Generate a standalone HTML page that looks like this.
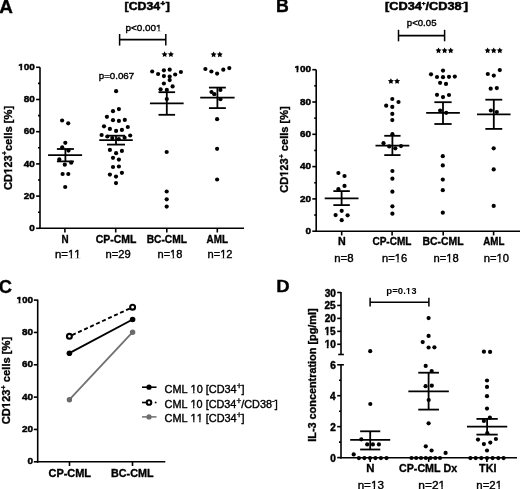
<!DOCTYPE html>
<html><head><meta charset="utf-8"><style>
html,body{margin:0;padding:0;background:#fff;}
body{width:520px;height:489px;overflow:hidden;}
svg{display:block;font-family:"Liberation Sans", sans-serif;font-kerning:none;will-change:transform;}
.b{font-weight:bold;stroke:#000;stroke-width:0.35px;}
.r{font-weight:normal;stroke:#000;stroke-width:0.38px;}
</style></head><body>
<svg width="520" height="489" viewBox="0 0 520 489" fill="#000">
<text class="b" font-size="18.2" transform="translate(-0.72,12.60) scale(1.0392,1)">A</text>
<text class="b" font-size="10.8" style="stroke-width:0.5px" transform="translate(124.59,10.00) scale(1.1403,1)">[CD34<tspan font-size="7" dy="-3.8" dx="0.2">+</tspan><tspan dy="3.8" dx="0.7">]</tspan></text>
<line x1="40.00" y1="67.30" x2="40.00" y2="229.10" stroke="#000" stroke-width="1.6" />
<line x1="36.10" y1="228.30" x2="40.00" y2="228.30" stroke="#000" stroke-width="1.6" />
<text class="b" font-size="9.3" style="stroke-width:0.45px" transform="translate(29.32,231.00) scale(1.0700,1)">0</text>
<line x1="36.10" y1="196.10" x2="40.00" y2="196.10" stroke="#000" stroke-width="1.6" />
<text class="b" font-size="9.3" style="stroke-width:0.45px" transform="translate(23.70,198.80) scale(1.0700,1)">20</text>
<line x1="36.10" y1="163.90" x2="40.00" y2="163.90" stroke="#000" stroke-width="1.6" />
<text class="b" font-size="9.3" style="stroke-width:0.45px" transform="translate(23.70,166.60) scale(1.0700,1)">40</text>
<line x1="36.10" y1="131.70" x2="40.00" y2="131.70" stroke="#000" stroke-width="1.6" />
<text class="b" font-size="9.3" style="stroke-width:0.45px" transform="translate(23.70,134.40) scale(1.0700,1)">60</text>
<line x1="36.10" y1="99.50" x2="40.00" y2="99.50" stroke="#000" stroke-width="1.6" />
<text class="b" font-size="9.3" style="stroke-width:0.45px" transform="translate(23.70,102.20) scale(1.0700,1)">80</text>
<line x1="36.10" y1="67.30" x2="40.00" y2="67.30" stroke="#000" stroke-width="1.6" />
<text class="b" font-size="9.3" style="stroke-width:0.45px" transform="translate(18.22,70.00) scale(1.0700,1)">100</text>
<line x1="38.00" y1="212.20" x2="40.00" y2="212.20" stroke="#000" stroke-width="1.6" />
<line x1="38.00" y1="180.00" x2="40.00" y2="180.00" stroke="#000" stroke-width="1.6" />
<line x1="38.00" y1="147.80" x2="40.00" y2="147.80" stroke="#000" stroke-width="1.6" />
<line x1="38.00" y1="115.60" x2="40.00" y2="115.60" stroke="#000" stroke-width="1.6" />
<line x1="38.00" y1="83.40" x2="40.00" y2="83.40" stroke="#000" stroke-width="1.6" />
<line x1="39.20" y1="228.30" x2="244.00" y2="228.30" stroke="#000" stroke-width="1.6" />
<line x1="64.90" y1="228.30" x2="64.90" y2="232.50" stroke="#000" stroke-width="1.6" />
<line x1="115.70" y1="228.30" x2="115.70" y2="232.50" stroke="#000" stroke-width="1.6" />
<line x1="166.80" y1="228.30" x2="166.80" y2="232.50" stroke="#000" stroke-width="1.6" />
<line x1="217.30" y1="228.30" x2="217.30" y2="232.50" stroke="#000" stroke-width="1.6" />
<text class="b" font-size="10.2" transform="translate(61.60,242.60) scale(0.9667,1)">N</text>
<text class="b" font-size="10.2" transform="translate(95.72,242.60) scale(1.0264,1)">CP-CML</text>
<text class="b" font-size="10.2" transform="translate(146.67,242.60) scale(1.0038,1)">BC-CML</text>
<text class="b" font-size="10.2" transform="translate(206.56,242.60) scale(0.9674,1)">AML</text>
<text class="r" font-size="10.7" transform="translate(54.90,257.50) scale(1.0688,1)">n=11</text>
<text class="r" font-size="10.7" transform="translate(105.62,257.50) scale(1.0448,1)">n=29</text>
<text class="r" font-size="10.7" transform="translate(157.53,257.50) scale(1.0317,1)">n=18</text>
<text class="r" font-size="10.7" transform="translate(207.52,257.50) scale(1.0374,1)">n=12</text>
<text class="b" font-size="11" transform="translate(11.80,190.01) rotate(-90) scale(1.0150,1)">CD123<tspan font-size="7" dy="-5.0">+</tspan><tspan dy="5.0">cells [%]</tspan></text>
<text class="r" font-size="9.5" transform="translate(125.55,30.50) scale(1.0436,1)">p&lt;0.001</text>
<line x1="119.60" y1="39.60" x2="165.80" y2="39.60" stroke="#000" stroke-width="1.6" />
<line x1="119.60" y1="34.00" x2="119.60" y2="45.60" stroke="#000" stroke-width="1.5" />
<line x1="165.80" y1="34.00" x2="165.80" y2="45.60" stroke="#000" stroke-width="1.5" />
<text class="r" font-size="9.6" transform="translate(98.77,79.20) scale(1.0140,1)">p=0.067</text>
<polygon points="164.60,51.35 165.54,53.21 167.60,53.53 166.12,54.99 166.45,57.05 164.60,56.10 162.75,57.05 163.08,54.99 161.60,53.53 163.66,53.21" fill="#000"/>
<polygon points="170.90,51.35 171.84,53.21 173.90,53.53 172.42,54.99 172.75,57.05 170.90,56.10 169.05,57.05 169.38,54.99 167.90,53.53 169.96,53.21" fill="#000"/>
<polygon points="213.60,51.45 214.54,53.31 216.60,53.63 215.12,55.09 215.45,57.15 213.60,56.20 211.75,57.15 212.08,55.09 210.60,53.63 212.66,53.31" fill="#000"/>
<polygon points="219.80,51.45 220.74,53.31 222.80,53.63 221.32,55.09 221.65,57.15 219.80,56.20 217.95,57.15 218.28,55.09 216.80,53.63 218.86,53.31" fill="#000"/>
<circle cx="62.10" cy="120.50" r="2.1" fill="#000"/>
<circle cx="68.20" cy="123.30" r="2.1" fill="#000"/>
<circle cx="65.30" cy="142.80" r="2.1" fill="#000"/>
<circle cx="62.20" cy="147.30" r="2.1" fill="#000"/>
<circle cx="68.50" cy="150.60" r="2.1" fill="#000"/>
<circle cx="59.30" cy="159.40" r="2.1" fill="#000"/>
<circle cx="64.80" cy="164.70" r="2.1" fill="#000"/>
<circle cx="71.20" cy="162.70" r="2.1" fill="#000"/>
<circle cx="62.60" cy="174.00" r="2.1" fill="#000"/>
<circle cx="68.30" cy="174.00" r="2.1" fill="#000"/>
<circle cx="65.20" cy="187.00" r="2.1" fill="#000"/>
<circle cx="116.10" cy="91.20" r="2.1" fill="#000"/>
<circle cx="118.90" cy="109.10" r="2.1" fill="#000"/>
<circle cx="113.00" cy="111.20" r="2.1" fill="#000"/>
<circle cx="106.90" cy="116.80" r="2.1" fill="#000"/>
<circle cx="113.00" cy="120.20" r="2.1" fill="#000"/>
<circle cx="118.90" cy="120.90" r="2.1" fill="#000"/>
<circle cx="124.80" cy="119.90" r="2.1" fill="#000"/>
<circle cx="104.00" cy="126.30" r="2.1" fill="#000"/>
<circle cx="109.90" cy="128.90" r="2.1" fill="#000"/>
<circle cx="116.10" cy="130.90" r="2.1" fill="#000"/>
<circle cx="121.90" cy="129.90" r="2.1" fill="#000"/>
<circle cx="127.80" cy="127.00" r="2.1" fill="#000"/>
<circle cx="101.60" cy="135.00" r="2.1" fill="#000"/>
<circle cx="130.20" cy="135.50" r="2.1" fill="#000"/>
<circle cx="107.30" cy="136.50" r="2.1" fill="#000"/>
<circle cx="112.30" cy="138.10" r="2.1" fill="#000"/>
<circle cx="118.80" cy="139.20" r="2.1" fill="#000"/>
<circle cx="124.60" cy="137.70" r="2.1" fill="#000"/>
<circle cx="109.90" cy="149.90" r="2.1" fill="#000"/>
<circle cx="121.90" cy="150.90" r="2.1" fill="#000"/>
<circle cx="116.10" cy="153.20" r="2.1" fill="#000"/>
<circle cx="113.00" cy="157.80" r="2.1" fill="#000"/>
<circle cx="118.90" cy="159.60" r="2.1" fill="#000"/>
<circle cx="113.00" cy="167.00" r="2.1" fill="#000"/>
<circle cx="118.90" cy="166.50" r="2.1" fill="#000"/>
<circle cx="109.90" cy="174.60" r="2.1" fill="#000"/>
<circle cx="121.90" cy="172.80" r="2.1" fill="#000"/>
<circle cx="116.00" cy="176.60" r="2.1" fill="#000"/>
<circle cx="116.00" cy="183.10" r="2.1" fill="#000"/>
<circle cx="152.20" cy="71.50" r="2.1" fill="#000"/>
<circle cx="158.10" cy="74.00" r="2.1" fill="#000"/>
<circle cx="163.90" cy="70.30" r="2.1" fill="#000"/>
<circle cx="169.70" cy="69.70" r="2.1" fill="#000"/>
<circle cx="180.90" cy="72.00" r="2.1" fill="#000"/>
<circle cx="175.20" cy="74.50" r="2.1" fill="#000"/>
<circle cx="163.90" cy="76.10" r="2.1" fill="#000"/>
<circle cx="169.70" cy="76.60" r="2.1" fill="#000"/>
<circle cx="169.70" cy="80.10" r="2.1" fill="#000"/>
<circle cx="163.90" cy="83.50" r="2.1" fill="#000"/>
<circle cx="172.60" cy="86.40" r="2.1" fill="#000"/>
<circle cx="160.60" cy="89.30" r="2.1" fill="#000"/>
<circle cx="166.80" cy="89.90" r="2.1" fill="#000"/>
<circle cx="166.80" cy="99.10" r="2.1" fill="#000"/>
<circle cx="166.70" cy="152.00" r="2.1" fill="#000"/>
<circle cx="166.70" cy="191.50" r="2.1" fill="#000"/>
<circle cx="166.70" cy="199.30" r="2.1" fill="#000"/>
<circle cx="166.70" cy="206.60" r="2.1" fill="#000"/>
<circle cx="205.40" cy="69.00" r="2.1" fill="#000"/>
<circle cx="211.40" cy="71.50" r="2.1" fill="#000"/>
<circle cx="217.10" cy="73.60" r="2.1" fill="#000"/>
<circle cx="223.30" cy="69.70" r="2.1" fill="#000"/>
<circle cx="229.30" cy="68.10" r="2.1" fill="#000"/>
<circle cx="211.50" cy="92.00" r="2.1" fill="#000"/>
<circle cx="214.30" cy="94.20" r="2.1" fill="#000"/>
<circle cx="220.40" cy="89.90" r="2.1" fill="#000"/>
<circle cx="220.40" cy="99.20" r="2.1" fill="#000"/>
<circle cx="217.10" cy="119.20" r="2.1" fill="#000"/>
<circle cx="217.10" cy="148.80" r="2.1" fill="#000"/>
<circle cx="217.10" cy="179.50" r="2.1" fill="#000"/>
<line x1="48.10" y1="155.10" x2="82.10" y2="155.10" stroke="#000" stroke-width="1.8" />
<line x1="56.90" y1="149.00" x2="73.90" y2="149.00" stroke="#000" stroke-width="1.8" />
<line x1="56.90" y1="161.40" x2="73.90" y2="161.40" stroke="#000" stroke-width="1.8" />
<line x1="65.40" y1="149.00" x2="65.40" y2="161.40" stroke="#000" stroke-width="1.8" />
<line x1="99.25" y1="140.20" x2="132.75" y2="140.20" stroke="#000" stroke-width="1.8" />
<line x1="107.00" y1="135.70" x2="125.00" y2="135.70" stroke="#000" stroke-width="1.8" />
<line x1="107.00" y1="144.60" x2="125.00" y2="144.60" stroke="#000" stroke-width="1.8" />
<line x1="116.00" y1="135.70" x2="116.00" y2="144.60" stroke="#000" stroke-width="1.8" />
<line x1="149.95" y1="103.40" x2="183.65" y2="103.40" stroke="#000" stroke-width="1.8" />
<line x1="158.50" y1="92.20" x2="175.10" y2="92.20" stroke="#000" stroke-width="1.8" />
<line x1="158.50" y1="114.80" x2="175.10" y2="114.80" stroke="#000" stroke-width="1.8" />
<line x1="166.80" y1="92.20" x2="166.80" y2="114.80" stroke="#000" stroke-width="1.8" />
<line x1="200.20" y1="97.60" x2="234.60" y2="97.60" stroke="#000" stroke-width="1.8" />
<line x1="208.95" y1="87.60" x2="225.85" y2="87.60" stroke="#000" stroke-width="1.8" />
<line x1="208.95" y1="108.10" x2="225.85" y2="108.10" stroke="#000" stroke-width="1.8" />
<line x1="217.40" y1="87.60" x2="217.40" y2="108.10" stroke="#000" stroke-width="1.8" />
<text class="b" font-size="17.5" transform="translate(275.96,12.20) scale(1.0140,1)">B</text>
<text class="b" font-size="10.8" style="stroke-width:0.5px" transform="translate(385.06,9.80) scale(1.1769,1)">[CD34<tspan font-size="5.5" dy="-5.0">+</tspan><tspan dy="5.0">/CD38</tspan><tspan font-size="5.5" dy="-5.0">-</tspan><tspan dy="5.0">]</tspan></text>
<line x1="316.20" y1="69.70" x2="316.20" y2="232.00" stroke="#000" stroke-width="1.6" />
<line x1="312.30" y1="231.20" x2="316.20" y2="231.20" stroke="#000" stroke-width="1.6" />
<text class="b" font-size="9.3" style="stroke-width:0.45px" transform="translate(305.52,233.80) scale(1.0700,1)">0</text>
<line x1="312.30" y1="198.90" x2="316.20" y2="198.90" stroke="#000" stroke-width="1.6" />
<text class="b" font-size="9.3" style="stroke-width:0.45px" transform="translate(299.90,201.50) scale(1.0700,1)">20</text>
<line x1="312.30" y1="166.60" x2="316.20" y2="166.60" stroke="#000" stroke-width="1.6" />
<text class="b" font-size="9.3" style="stroke-width:0.45px" transform="translate(299.90,169.20) scale(1.0700,1)">40</text>
<line x1="312.30" y1="134.30" x2="316.20" y2="134.30" stroke="#000" stroke-width="1.6" />
<text class="b" font-size="9.3" style="stroke-width:0.45px" transform="translate(299.90,136.90) scale(1.0700,1)">60</text>
<line x1="312.30" y1="102.00" x2="316.20" y2="102.00" stroke="#000" stroke-width="1.6" />
<text class="b" font-size="9.3" style="stroke-width:0.45px" transform="translate(299.90,104.60) scale(1.0700,1)">80</text>
<line x1="312.30" y1="69.70" x2="316.20" y2="69.70" stroke="#000" stroke-width="1.6" />
<text class="b" font-size="9.3" style="stroke-width:0.45px" transform="translate(294.42,72.30) scale(1.0700,1)">100</text>
<line x1="314.20" y1="215.05" x2="316.20" y2="215.05" stroke="#000" stroke-width="1.6" />
<line x1="314.20" y1="182.75" x2="316.20" y2="182.75" stroke="#000" stroke-width="1.6" />
<line x1="314.20" y1="150.45" x2="316.20" y2="150.45" stroke="#000" stroke-width="1.6" />
<line x1="314.20" y1="118.15" x2="316.20" y2="118.15" stroke="#000" stroke-width="1.6" />
<line x1="314.20" y1="85.85" x2="316.20" y2="85.85" stroke="#000" stroke-width="1.6" />
<line x1="315.40" y1="231.20" x2="520.00" y2="231.20" stroke="#000" stroke-width="1.6" />
<line x1="341.70" y1="231.20" x2="341.70" y2="235.40" stroke="#000" stroke-width="1.6" />
<line x1="392.10" y1="231.20" x2="392.10" y2="235.40" stroke="#000" stroke-width="1.6" />
<line x1="443.20" y1="231.20" x2="443.20" y2="235.40" stroke="#000" stroke-width="1.6" />
<line x1="493.60" y1="231.20" x2="493.60" y2="235.40" stroke="#000" stroke-width="1.6" />
<text class="b" font-size="10.2" transform="translate(337.94,244.90) scale(1.0500,1)">N</text>
<text class="b" font-size="10.2" transform="translate(372.43,244.90) scale(0.9852,1)">CP-CML</text>
<text class="b" font-size="10.2" transform="translate(422.46,244.90) scale(1.0242,1)">BC-CML</text>
<text class="b" font-size="10.2" transform="translate(483.26,244.90) scale(0.9581,1)">AML</text>
<text class="r" font-size="10.7" transform="translate(334.20,261.70) scale(1.0667,1)">n=8</text>
<text class="r" font-size="10.7" transform="translate(381.92,261.70) scale(1.0448,1)">n=16</text>
<text class="r" font-size="10.7" transform="translate(433.52,261.70) scale(1.0448,1)">n=18</text>
<text class="r" font-size="10.7" transform="translate(483.72,261.70) scale(1.0448,1)">n=10</text>
<text class="b" font-size="11" transform="translate(288.20,192.80) rotate(-90) scale(1.0074,1)">CD123<tspan font-size="7" dy="-4.5">+</tspan><tspan dy="4.5"> cells [%]</tspan></text>
<text class="r" font-size="9.6" transform="translate(406.77,25.50) scale(1.0061,1)">p&lt;0.05</text>
<line x1="398.50" y1="35.60" x2="444.60" y2="35.60" stroke="#000" stroke-width="1.6" />
<line x1="398.50" y1="29.80" x2="398.50" y2="41.30" stroke="#000" stroke-width="1.5" />
<line x1="444.60" y1="29.80" x2="444.60" y2="41.30" stroke="#000" stroke-width="1.5" />
<polygon points="390.90,78.15 391.84,80.01 393.90,80.33 392.42,81.79 392.75,83.85 390.90,82.90 389.05,83.85 389.38,81.79 387.90,80.33 389.96,80.01" fill="#000"/>
<polygon points="397.10,78.15 398.04,80.01 400.10,80.33 398.62,81.79 398.95,83.85 397.10,82.90 395.25,83.85 395.58,81.79 394.10,80.33 396.16,80.01" fill="#000"/>
<polygon points="438.50,47.45 439.44,49.31 441.50,49.63 440.02,51.09 440.35,53.15 438.50,52.20 436.65,53.15 436.98,51.09 435.50,49.63 437.56,49.31" fill="#000"/>
<polygon points="444.60,47.45 445.54,49.31 447.60,49.63 446.12,51.09 446.45,53.15 444.60,52.20 442.75,53.15 443.08,51.09 441.60,49.63 443.66,49.31" fill="#000"/>
<polygon points="450.70,47.45 451.64,49.31 453.70,49.63 452.22,51.09 452.55,53.15 450.70,52.20 448.85,53.15 449.18,51.09 447.70,49.63 449.76,49.31" fill="#000"/>
<polygon points="487.60,47.45 488.54,49.31 490.60,49.63 489.12,51.09 489.45,53.15 487.60,52.20 485.75,53.15 486.08,51.09 484.60,49.63 486.66,49.31" fill="#000"/>
<polygon points="493.70,47.45 494.64,49.31 496.70,49.63 495.22,51.09 495.55,53.15 493.70,52.20 491.85,53.15 492.18,51.09 490.70,49.63 492.76,49.31" fill="#000"/>
<polygon points="499.80,47.45 500.74,49.31 502.80,49.63 501.32,51.09 501.65,53.15 499.80,52.20 497.95,53.15 498.28,51.09 496.80,49.63 498.86,49.31" fill="#000"/>
<circle cx="338.40" cy="173.00" r="2.1" fill="#000"/>
<circle cx="344.50" cy="176.00" r="2.1" fill="#000"/>
<circle cx="344.50" cy="185.90" r="2.1" fill="#000"/>
<circle cx="338.40" cy="189.20" r="2.1" fill="#000"/>
<circle cx="341.70" cy="210.80" r="2.1" fill="#000"/>
<circle cx="335.60" cy="215.10" r="2.1" fill="#000"/>
<circle cx="347.60" cy="215.30" r="2.1" fill="#000"/>
<circle cx="341.70" cy="220.20" r="2.1" fill="#000"/>
<circle cx="392.30" cy="99.00" r="2.1" fill="#000"/>
<circle cx="398.50" cy="102.00" r="2.1" fill="#000"/>
<circle cx="386.20" cy="105.70" r="2.1" fill="#000"/>
<circle cx="392.30" cy="106.90" r="2.1" fill="#000"/>
<circle cx="392.30" cy="113.90" r="2.1" fill="#000"/>
<circle cx="392.30" cy="120.10" r="2.1" fill="#000"/>
<circle cx="392.40" cy="134.20" r="2.1" fill="#000"/>
<circle cx="383.50" cy="143.20" r="2.1" fill="#000"/>
<circle cx="389.20" cy="146.40" r="2.1" fill="#000"/>
<circle cx="395.30" cy="148.30" r="2.1" fill="#000"/>
<circle cx="401.00" cy="146.10" r="2.1" fill="#000"/>
<circle cx="392.40" cy="171.00" r="2.1" fill="#000"/>
<circle cx="392.40" cy="178.70" r="2.1" fill="#000"/>
<circle cx="392.40" cy="191.70" r="2.1" fill="#000"/>
<circle cx="392.40" cy="206.30" r="2.1" fill="#000"/>
<circle cx="392.40" cy="213.70" r="2.1" fill="#000"/>
<circle cx="443.00" cy="70.60" r="2.1" fill="#000"/>
<circle cx="431.00" cy="74.30" r="2.1" fill="#000"/>
<circle cx="437.00" cy="77.00" r="2.1" fill="#000"/>
<circle cx="443.00" cy="77.20" r="2.1" fill="#000"/>
<circle cx="449.00" cy="76.80" r="2.1" fill="#000"/>
<circle cx="454.80" cy="76.60" r="2.1" fill="#000"/>
<circle cx="440.10" cy="82.80" r="2.1" fill="#000"/>
<circle cx="446.00" cy="83.90" r="2.1" fill="#000"/>
<circle cx="437.00" cy="94.80" r="2.1" fill="#000"/>
<circle cx="443.00" cy="97.10" r="2.1" fill="#000"/>
<circle cx="449.00" cy="95.00" r="2.1" fill="#000"/>
<circle cx="440.10" cy="110.60" r="2.1" fill="#000"/>
<circle cx="446.20" cy="112.80" r="2.1" fill="#000"/>
<circle cx="442.80" cy="156.20" r="2.1" fill="#000"/>
<circle cx="442.80" cy="165.40" r="2.1" fill="#000"/>
<circle cx="442.80" cy="179.60" r="2.1" fill="#000"/>
<circle cx="442.80" cy="190.20" r="2.1" fill="#000"/>
<circle cx="442.80" cy="212.70" r="2.1" fill="#000"/>
<circle cx="487.80" cy="74.00" r="2.1" fill="#000"/>
<circle cx="493.80" cy="75.60" r="2.1" fill="#000"/>
<circle cx="499.80" cy="70.10" r="2.1" fill="#000"/>
<circle cx="490.70" cy="88.70" r="2.1" fill="#000"/>
<circle cx="496.80" cy="88.10" r="2.1" fill="#000"/>
<circle cx="490.90" cy="110.50" r="2.1" fill="#000"/>
<circle cx="496.80" cy="112.00" r="2.1" fill="#000"/>
<circle cx="493.70" cy="148.30" r="2.1" fill="#000"/>
<circle cx="493.70" cy="169.40" r="2.1" fill="#000"/>
<circle cx="493.70" cy="205.90" r="2.1" fill="#000"/>
<line x1="324.70" y1="198.40" x2="358.50" y2="198.40" stroke="#000" stroke-width="1.8" />
<line x1="333.35" y1="191.10" x2="349.85" y2="191.10" stroke="#000" stroke-width="1.8" />
<line x1="333.35" y1="205.10" x2="349.85" y2="205.10" stroke="#000" stroke-width="1.8" />
<line x1="341.60" y1="191.10" x2="341.60" y2="205.10" stroke="#000" stroke-width="1.8" />
<line x1="375.50" y1="145.60" x2="409.30" y2="145.60" stroke="#000" stroke-width="1.8" />
<line x1="384.25" y1="135.80" x2="400.55" y2="135.80" stroke="#000" stroke-width="1.8" />
<line x1="384.25" y1="155.10" x2="400.55" y2="155.10" stroke="#000" stroke-width="1.8" />
<line x1="392.40" y1="135.80" x2="392.40" y2="155.10" stroke="#000" stroke-width="1.8" />
<line x1="426.15" y1="112.90" x2="459.85" y2="112.90" stroke="#000" stroke-width="1.8" />
<line x1="434.35" y1="102.20" x2="451.65" y2="102.20" stroke="#000" stroke-width="1.8" />
<line x1="434.35" y1="124.00" x2="451.65" y2="124.00" stroke="#000" stroke-width="1.8" />
<line x1="443.00" y1="102.20" x2="443.00" y2="124.00" stroke="#000" stroke-width="1.8" />
<line x1="477.05" y1="114.30" x2="510.55" y2="114.30" stroke="#000" stroke-width="1.8" />
<line x1="485.35" y1="99.70" x2="502.25" y2="99.70" stroke="#000" stroke-width="1.8" />
<line x1="485.35" y1="128.90" x2="502.25" y2="128.90" stroke="#000" stroke-width="1.8" />
<line x1="493.80" y1="99.70" x2="493.80" y2="128.90" stroke="#000" stroke-width="1.8" />
<text class="b" font-size="17.5" transform="translate(-1.28,293.20) scale(1.0462,1)">C</text>
<line x1="37.70" y1="299.60" x2="37.70" y2="462.60" stroke="#000" stroke-width="1.6" />
<line x1="33.80" y1="461.80" x2="37.70" y2="461.80" stroke="#000" stroke-width="1.6" />
<text class="b" font-size="9.3" style="stroke-width:0.45px" transform="translate(27.62,464.30) scale(1.0700,1)">0</text>
<line x1="33.80" y1="429.46" x2="37.70" y2="429.46" stroke="#000" stroke-width="1.6" />
<text class="b" font-size="9.3" style="stroke-width:0.45px" transform="translate(22.00,431.96) scale(1.0700,1)">20</text>
<line x1="33.80" y1="397.12" x2="37.70" y2="397.12" stroke="#000" stroke-width="1.6" />
<text class="b" font-size="9.3" style="stroke-width:0.45px" transform="translate(22.00,399.62) scale(1.0700,1)">40</text>
<line x1="33.80" y1="364.78" x2="37.70" y2="364.78" stroke="#000" stroke-width="1.6" />
<text class="b" font-size="9.3" style="stroke-width:0.45px" transform="translate(22.00,367.28) scale(1.0700,1)">60</text>
<line x1="33.80" y1="332.44" x2="37.70" y2="332.44" stroke="#000" stroke-width="1.6" />
<text class="b" font-size="9.3" style="stroke-width:0.45px" transform="translate(22.00,334.94) scale(1.0700,1)">80</text>
<line x1="33.80" y1="300.10" x2="37.70" y2="300.10" stroke="#000" stroke-width="1.6" />
<text class="b" font-size="9.3" style="stroke-width:0.45px" transform="translate(16.52,302.60) scale(1.0700,1)">100</text>
<line x1="36.90" y1="461.80" x2="165.30" y2="461.80" stroke="#000" stroke-width="1.6" />
<line x1="69.50" y1="461.80" x2="69.50" y2="466.00" stroke="#000" stroke-width="1.6" />
<line x1="132.50" y1="461.80" x2="132.50" y2="466.00" stroke="#000" stroke-width="1.6" />
<text class="b" font-size="10.6" transform="translate(48.48,477.20) scale(1.0353,1)">CP-CML</text>
<text class="b" font-size="10.6" transform="translate(110.99,477.20) scale(1.0184,1)">BC-CML</text>
<text class="b" font-size="11" transform="translate(10.20,424.31) rotate(-90) scale(1.0191,1)">CD123<tspan font-size="7" dy="-4.5">+</tspan><tspan dy="4.5"> cells [%]</tspan></text>
<line x1="69.40" y1="336.30" x2="132.60" y2="307.20" stroke="#000" stroke-width="1.9" stroke-dasharray="4,2.6" stroke-dashoffset="-3"/>
<line x1="69.40" y1="353.20" x2="132.60" y2="319.50" stroke="#000" stroke-width="1.9" />
<line x1="69.40" y1="399.70" x2="132.60" y2="332.20" stroke="#707070" stroke-width="1.8" />
<circle cx="69.4" cy="336.3" r="2.45" fill="#fff" stroke="#000" stroke-width="2.1"/>
<circle cx="132.6" cy="307.2" r="2.45" fill="#fff" stroke="#000" stroke-width="2.1"/>
<circle cx="69.40" cy="353.20" r="2.8" fill="#000"/>
<circle cx="132.60" cy="319.50" r="2.8" fill="#000"/>
<circle cx="69.40" cy="399.70" r="2.7" fill="#6a6a6a"/>
<circle cx="132.60" cy="332.20" r="2.7" fill="#6a6a6a"/>
<line x1="142.00" y1="387.20" x2="156.50" y2="387.20" stroke="#000" stroke-width="1.6" />
<circle cx="149.00" cy="387.20" r="2.6" fill="#000"/>
<line x1="142.00" y1="402.50" x2="146.20" y2="402.50" stroke="#000" stroke-width="1.6" />
<line x1="154.80" y1="402.50" x2="156.50" y2="402.50" stroke="#000" stroke-width="1.6" />
<circle cx="149" cy="402.5" r="2.3" fill="#fff" stroke="#000" stroke-width="2.1"/>
<line x1="142.00" y1="416.90" x2="156.50" y2="416.90" stroke="#777" stroke-width="1.6" />
<circle cx="149.00" cy="416.90" r="2.6" fill="#6e6e6e"/>
<text class="r" font-size="10.9" transform="translate(164.60,392.70) scale(1.0003,1)">CML 10 [CD34<tspan font-size="8.2" dy="-4.0">+</tspan><tspan dy="4.0">]</tspan></text>
<text class="r" font-size="10.9" transform="translate(164.60,407.80) scale(0.9969,1)">CML 10 [CD34<tspan font-size="8.2" dy="-4.0">+</tspan><tspan dy="4.0">/CD38</tspan><tspan font-size="8.2" dy="-4.0">-</tspan><tspan dy="4.0">]</tspan></text>
<text class="r" font-size="10.9" transform="translate(164.60,422.40) scale(1.0003,1)">CML 11 [CD34<tspan font-size="8.2" dy="-4.0">+</tspan><tspan dy="4.0">]</tspan></text>
<text class="b" font-size="16.8" transform="translate(276.16,292.20) scale(1.1024,1)">D</text>
<line x1="341.00" y1="292.10" x2="341.00" y2="354.50" stroke="#000" stroke-width="1.6" />
<line x1="337.20" y1="344.30" x2="341.00" y2="344.30" stroke="#000" stroke-width="1.6" />
<text class="b" font-size="10" style="stroke-width:0.45px" transform="translate(324.65,348.30) scale(1.0000,1)">10</text>
<line x1="337.20" y1="331.35" x2="341.00" y2="331.35" stroke="#000" stroke-width="1.6" />
<text class="b" font-size="10" style="stroke-width:0.45px" transform="translate(324.52,335.35) scale(1.0000,1)">15</text>
<line x1="337.20" y1="318.40" x2="341.00" y2="318.40" stroke="#000" stroke-width="1.6" />
<text class="b" font-size="10" style="stroke-width:0.45px" transform="translate(324.65,322.40) scale(1.0000,1)">20</text>
<line x1="337.20" y1="305.45" x2="341.00" y2="305.45" stroke="#000" stroke-width="1.6" />
<text class="b" font-size="10" style="stroke-width:0.45px" transform="translate(324.52,309.45) scale(1.0000,1)">25</text>
<line x1="337.20" y1="292.50" x2="341.00" y2="292.50" stroke="#000" stroke-width="1.6" />
<text class="b" font-size="10" style="stroke-width:0.45px" transform="translate(324.65,296.50) scale(1.0000,1)">30</text>
<line x1="338.20" y1="354.50" x2="343.90" y2="354.50" stroke="#000" stroke-width="1.6" />
<line x1="341.00" y1="364.80" x2="341.00" y2="458.50" stroke="#000" stroke-width="1.6" />
<line x1="341.00" y1="364.80" x2="343.90" y2="364.80" stroke="#000" stroke-width="1.6" />
<line x1="337.20" y1="457.60" x2="341.00" y2="457.60" stroke="#000" stroke-width="1.6" />
<text class="b" font-size="10" style="stroke-width:0.45px" transform="translate(330.27,461.60) scale(1.0000,1)">0</text>
<line x1="337.20" y1="426.66" x2="341.00" y2="426.66" stroke="#000" stroke-width="1.6" />
<text class="b" font-size="10" style="stroke-width:0.45px" transform="translate(330.27,430.66) scale(1.0000,1)">2</text>
<line x1="337.20" y1="395.72" x2="341.00" y2="395.72" stroke="#000" stroke-width="1.6" />
<text class="b" font-size="10" style="stroke-width:0.45px" transform="translate(329.90,399.72) scale(1.0000,1)">4</text>
<line x1="337.20" y1="364.78" x2="341.00" y2="364.78" stroke="#000" stroke-width="1.6" />
<text class="b" font-size="10" style="stroke-width:0.45px" transform="translate(330.15,368.78) scale(1.0000,1)">6</text>
<line x1="339.00" y1="442.13" x2="341.00" y2="442.13" stroke="#000" stroke-width="1.6" />
<line x1="339.00" y1="411.19" x2="341.00" y2="411.19" stroke="#000" stroke-width="1.6" />
<line x1="339.00" y1="380.25" x2="341.00" y2="380.25" stroke="#000" stroke-width="1.6" />
<line x1="340.20" y1="457.70" x2="517.00" y2="457.70" stroke="#000" stroke-width="1.6" />
<line x1="370.20" y1="457.70" x2="370.20" y2="461.90" stroke="#000" stroke-width="1.6" />
<line x1="428.70" y1="457.70" x2="428.70" y2="461.90" stroke="#000" stroke-width="1.6" />
<line x1="486.90" y1="457.70" x2="486.90" y2="461.90" stroke="#000" stroke-width="1.6" />
<text class="b" font-size="10.6" transform="translate(366.30,472.20) scale(1.0720,1)">N</text>
<text class="b" font-size="10.6" transform="translate(399.00,472.20) scale(1.0088,1)">CP-CML Dx</text>
<text class="b" font-size="10.6" transform="translate(479.07,472.20) scale(1.0154,1)">TKI</text>
<text class="r" font-size="11.3" transform="translate(357.63,489.20) scale(1.0321,1)">n=13</text>
<text class="r" font-size="11.3" transform="translate(418.31,489.20) scale(1.0570,1)">n=21</text>
<text class="r" font-size="11.3" transform="translate(476.34,489.20) scale(1.0120,1)">n=21</text>
<text class="b" font-size="10.8" transform="translate(316.40,441.75) rotate(-90) scale(1.0057,1)">IL-3 concentration [pg/ml]</text>
<text class="b" font-size="9.5" style="stroke-width:0" transform="translate(386.27,293.60) scale(1.0147,1)">p=0.13</text>
<line x1="370.10" y1="302.30" x2="428.90" y2="302.30" stroke="#000" stroke-width="1.6" />
<line x1="370.10" y1="297.80" x2="370.10" y2="306.60" stroke="#000" stroke-width="1.5" />
<line x1="428.90" y1="297.80" x2="428.90" y2="306.60" stroke="#000" stroke-width="1.5" />
<circle cx="370.20" cy="351.20" r="2.1" fill="#000"/>
<circle cx="370.30" cy="404.00" r="2.1" fill="#000"/>
<circle cx="361.30" cy="439.30" r="2.1" fill="#000"/>
<circle cx="367.20" cy="444.40" r="2.1" fill="#000"/>
<circle cx="372.90" cy="444.40" r="2.1" fill="#000"/>
<circle cx="378.90" cy="444.40" r="2.1" fill="#000"/>
<circle cx="353.70" cy="454.40" r="2.1" fill="#000"/>
<circle cx="358.90" cy="458.10" r="2.1" fill="#000"/>
<circle cx="364.40" cy="458.10" r="2.1" fill="#000"/>
<circle cx="370.00" cy="458.10" r="2.1" fill="#000"/>
<circle cx="375.40" cy="458.10" r="2.1" fill="#000"/>
<circle cx="380.90" cy="458.10" r="2.1" fill="#000"/>
<circle cx="386.50" cy="458.10" r="2.1" fill="#000"/>
<circle cx="428.60" cy="318.10" r="2.1" fill="#000"/>
<circle cx="428.60" cy="335.90" r="2.1" fill="#000"/>
<circle cx="422.70" cy="342.10" r="2.1" fill="#000"/>
<circle cx="428.60" cy="347.50" r="2.1" fill="#000"/>
<circle cx="434.40" cy="347.30" r="2.1" fill="#000"/>
<circle cx="425.70" cy="365.90" r="2.1" fill="#000"/>
<circle cx="431.70" cy="371.00" r="2.1" fill="#000"/>
<circle cx="425.60" cy="386.20" r="2.1" fill="#000"/>
<circle cx="431.80" cy="385.70" r="2.1" fill="#000"/>
<circle cx="428.70" cy="400.00" r="2.1" fill="#000"/>
<circle cx="428.60" cy="423.30" r="2.1" fill="#000"/>
<circle cx="425.80" cy="446.30" r="2.1" fill="#000"/>
<circle cx="431.60" cy="450.50" r="2.1" fill="#000"/>
<circle cx="445.60" cy="452.90" r="2.1" fill="#000"/>
<circle cx="411.50" cy="458.00" r="2.1" fill="#000"/>
<circle cx="416.20" cy="458.00" r="2.1" fill="#000"/>
<circle cx="421.00" cy="458.00" r="2.1" fill="#000"/>
<circle cx="425.80" cy="458.00" r="2.1" fill="#000"/>
<circle cx="430.50" cy="458.00" r="2.1" fill="#000"/>
<circle cx="435.30" cy="458.00" r="2.1" fill="#000"/>
<circle cx="440.00" cy="458.00" r="2.1" fill="#000"/>
<circle cx="483.90" cy="351.70" r="2.1" fill="#000"/>
<circle cx="490.10" cy="351.90" r="2.1" fill="#000"/>
<circle cx="487.00" cy="380.50" r="2.1" fill="#000"/>
<circle cx="487.00" cy="386.90" r="2.1" fill="#000"/>
<circle cx="487.00" cy="396.20" r="2.1" fill="#000"/>
<circle cx="487.00" cy="408.60" r="2.1" fill="#000"/>
<circle cx="489.90" cy="417.70" r="2.1" fill="#000"/>
<circle cx="483.90" cy="420.90" r="2.1" fill="#000"/>
<circle cx="487.30" cy="433.20" r="2.1" fill="#000"/>
<circle cx="478.00" cy="439.60" r="2.1" fill="#000"/>
<circle cx="495.90" cy="439.00" r="2.1" fill="#000"/>
<circle cx="483.90" cy="444.10" r="2.1" fill="#000"/>
<circle cx="490.30" cy="442.60" r="2.1" fill="#000"/>
<circle cx="487.00" cy="450.50" r="2.1" fill="#000"/>
<circle cx="470.40" cy="458.10" r="2.1" fill="#000"/>
<circle cx="475.70" cy="458.10" r="2.1" fill="#000"/>
<circle cx="481.30" cy="458.10" r="2.1" fill="#000"/>
<circle cx="487.00" cy="458.10" r="2.1" fill="#000"/>
<circle cx="492.60" cy="458.10" r="2.1" fill="#000"/>
<circle cx="498.30" cy="458.10" r="2.1" fill="#000"/>
<circle cx="503.60" cy="458.10" r="2.1" fill="#000"/>
<line x1="350.20" y1="439.90" x2="390.20" y2="439.90" stroke="#000" stroke-width="1.8" />
<line x1="360.15" y1="431.30" x2="380.25" y2="431.30" stroke="#000" stroke-width="1.8" />
<line x1="360.15" y1="449.50" x2="380.25" y2="449.50" stroke="#000" stroke-width="1.8" />
<line x1="370.20" y1="431.30" x2="370.20" y2="449.50" stroke="#000" stroke-width="1.8" />
<line x1="408.35" y1="391.30" x2="448.85" y2="391.30" stroke="#000" stroke-width="1.8" />
<line x1="418.25" y1="372.70" x2="438.95" y2="372.70" stroke="#000" stroke-width="1.8" />
<line x1="418.25" y1="409.60" x2="438.95" y2="409.60" stroke="#000" stroke-width="1.8" />
<line x1="428.60" y1="372.70" x2="428.60" y2="409.60" stroke="#000" stroke-width="1.8" />
<line x1="466.95" y1="426.60" x2="507.25" y2="426.60" stroke="#000" stroke-width="1.8" />
<line x1="476.45" y1="418.90" x2="497.75" y2="418.90" stroke="#000" stroke-width="1.8" />
<line x1="476.45" y1="434.60" x2="497.75" y2="434.60" stroke="#000" stroke-width="1.8" />
<line x1="487.10" y1="418.90" x2="487.10" y2="434.60" stroke="#000" stroke-width="1.8" />
<g id="onefix"><g transform="translate(18.22,70.00) scale(1.0700,1)"><rect x="-0.11" y="-2.25" width="2.06" height="3.25" fill="#fff"/><rect x="3.67" y="-2.25" width="1.94" height="3.25" fill="#fff"/></g><g transform="translate(54.90,257.50) scale(1.0688,1)"><rect x="12.30" y="-2.10" width="2.39" height="3.10" fill="#fff"/><rect x="16.01" y="-2.10" width="2.30" height="3.10" fill="#fff"/></g><g transform="translate(54.90,257.50) scale(1.0688,1)"><rect x="18.23" y="-2.10" width="2.39" height="3.10" fill="#fff"/><rect x="21.94" y="-2.10" width="2.30" height="3.10" fill="#fff"/></g><g transform="translate(157.53,257.50) scale(1.0317,1)"><rect x="12.30" y="-2.10" width="2.39" height="3.10" fill="#fff"/><rect x="16.01" y="-2.10" width="2.30" height="3.10" fill="#fff"/></g><g transform="translate(207.52,257.50) scale(1.0374,1)"><rect x="12.29" y="-2.10" width="2.39" height="3.10" fill="#fff"/><rect x="16.00" y="-2.10" width="2.30" height="3.10" fill="#fff"/></g><g transform="translate(11.80,190.01) rotate(-90) scale(1.0150,1)"><rect x="15.87" y="-2.42" width="2.40" height="3.42" fill="#fff"/><rect x="20.13" y="-2.42" width="2.26" height="3.42" fill="#fff"/></g><g transform="translate(125.55,30.50) scale(1.0436,1)"><rect x="29.27" y="-2.01" width="2.18" height="3.01" fill="#fff"/><rect x="32.66" y="-2.01" width="2.10" height="3.01" fill="#fff"/></g><g transform="translate(294.42,72.30) scale(1.0700,1)"><rect x="-0.11" y="-2.25" width="2.06" height="3.25" fill="#fff"/><rect x="3.67" y="-2.25" width="1.94" height="3.25" fill="#fff"/></g><g transform="translate(381.92,261.70) scale(1.0448,1)"><rect x="12.31" y="-2.10" width="2.39" height="3.10" fill="#fff"/><rect x="16.02" y="-2.10" width="2.30" height="3.10" fill="#fff"/></g><g transform="translate(433.52,261.70) scale(1.0448,1)"><rect x="12.31" y="-2.10" width="2.39" height="3.10" fill="#fff"/><rect x="16.02" y="-2.10" width="2.30" height="3.10" fill="#fff"/></g><g transform="translate(483.72,261.70) scale(1.0448,1)"><rect x="12.31" y="-2.10" width="2.39" height="3.10" fill="#fff"/><rect x="16.02" y="-2.10" width="2.30" height="3.10" fill="#fff"/></g><g transform="translate(288.20,192.80) rotate(-90) scale(1.0074,1)"><rect x="15.86" y="-2.42" width="2.40" height="3.42" fill="#fff"/><rect x="20.11" y="-2.42" width="2.26" height="3.42" fill="#fff"/></g><g transform="translate(16.52,302.60) scale(1.0700,1)"><rect x="-0.11" y="-2.25" width="2.06" height="3.25" fill="#fff"/><rect x="3.67" y="-2.25" width="1.94" height="3.25" fill="#fff"/></g><g transform="translate(10.20,424.31) rotate(-90) scale(1.0191,1)"><rect x="15.86" y="-2.42" width="2.40" height="3.42" fill="#fff"/><rect x="20.12" y="-2.42" width="2.26" height="3.42" fill="#fff"/></g><g transform="translate(164.60,392.70) scale(1.0003,1)"><rect x="26.14" y="-2.11" width="2.42" height="3.11" fill="#fff"/><rect x="29.91" y="-2.11" width="2.34" height="3.11" fill="#fff"/></g><g transform="translate(164.60,407.80) scale(0.9969,1)"><rect x="26.14" y="-2.11" width="2.42" height="3.11" fill="#fff"/><rect x="29.90" y="-2.11" width="2.34" height="3.11" fill="#fff"/></g><g transform="translate(164.60,422.40) scale(1.0003,1)"><rect x="26.14" y="-2.11" width="2.42" height="3.11" fill="#fff"/><rect x="29.91" y="-2.11" width="2.34" height="3.11" fill="#fff"/></g><g transform="translate(164.60,422.40) scale(1.0003,1)"><rect x="32.19" y="-2.11" width="2.42" height="3.11" fill="#fff"/><rect x="35.95" y="-2.11" width="2.34" height="3.11" fill="#fff"/></g><g transform="translate(324.65,348.30) scale(1.0000,1)"><rect x="-0.07" y="-2.32" width="2.18" height="3.32" fill="#fff"/><rect x="3.93" y="-2.32" width="2.05" height="3.32" fill="#fff"/></g><g transform="translate(324.52,335.35) scale(1.0000,1)"><rect x="-0.07" y="-2.32" width="2.18" height="3.32" fill="#fff"/><rect x="3.93" y="-2.32" width="2.05" height="3.32" fill="#fff"/></g><g transform="translate(357.63,489.20) scale(1.0321,1)"><rect x="13.02" y="-2.14" width="2.49" height="3.14" fill="#fff"/><rect x="16.88" y="-2.14" width="2.40" height="3.14" fill="#fff"/></g><g transform="translate(418.31,489.20) scale(1.0570,1)"><rect x="19.30" y="-2.14" width="2.49" height="3.14" fill="#fff"/><rect x="23.16" y="-2.14" width="2.40" height="3.14" fill="#fff"/></g><g transform="translate(476.34,489.20) scale(1.0120,1)"><rect x="19.31" y="-2.14" width="2.49" height="3.14" fill="#fff"/><rect x="23.18" y="-2.14" width="2.40" height="3.14" fill="#fff"/></g><g transform="translate(386.27,293.60) scale(1.0147,1)"><rect x="19.15" y="-2.27" width="2.32" height="3.27" fill="#fff"/><rect x="22.77" y="-2.27" width="2.20" height="3.27" fill="#fff"/></g></g>
</svg>
</body></html>
